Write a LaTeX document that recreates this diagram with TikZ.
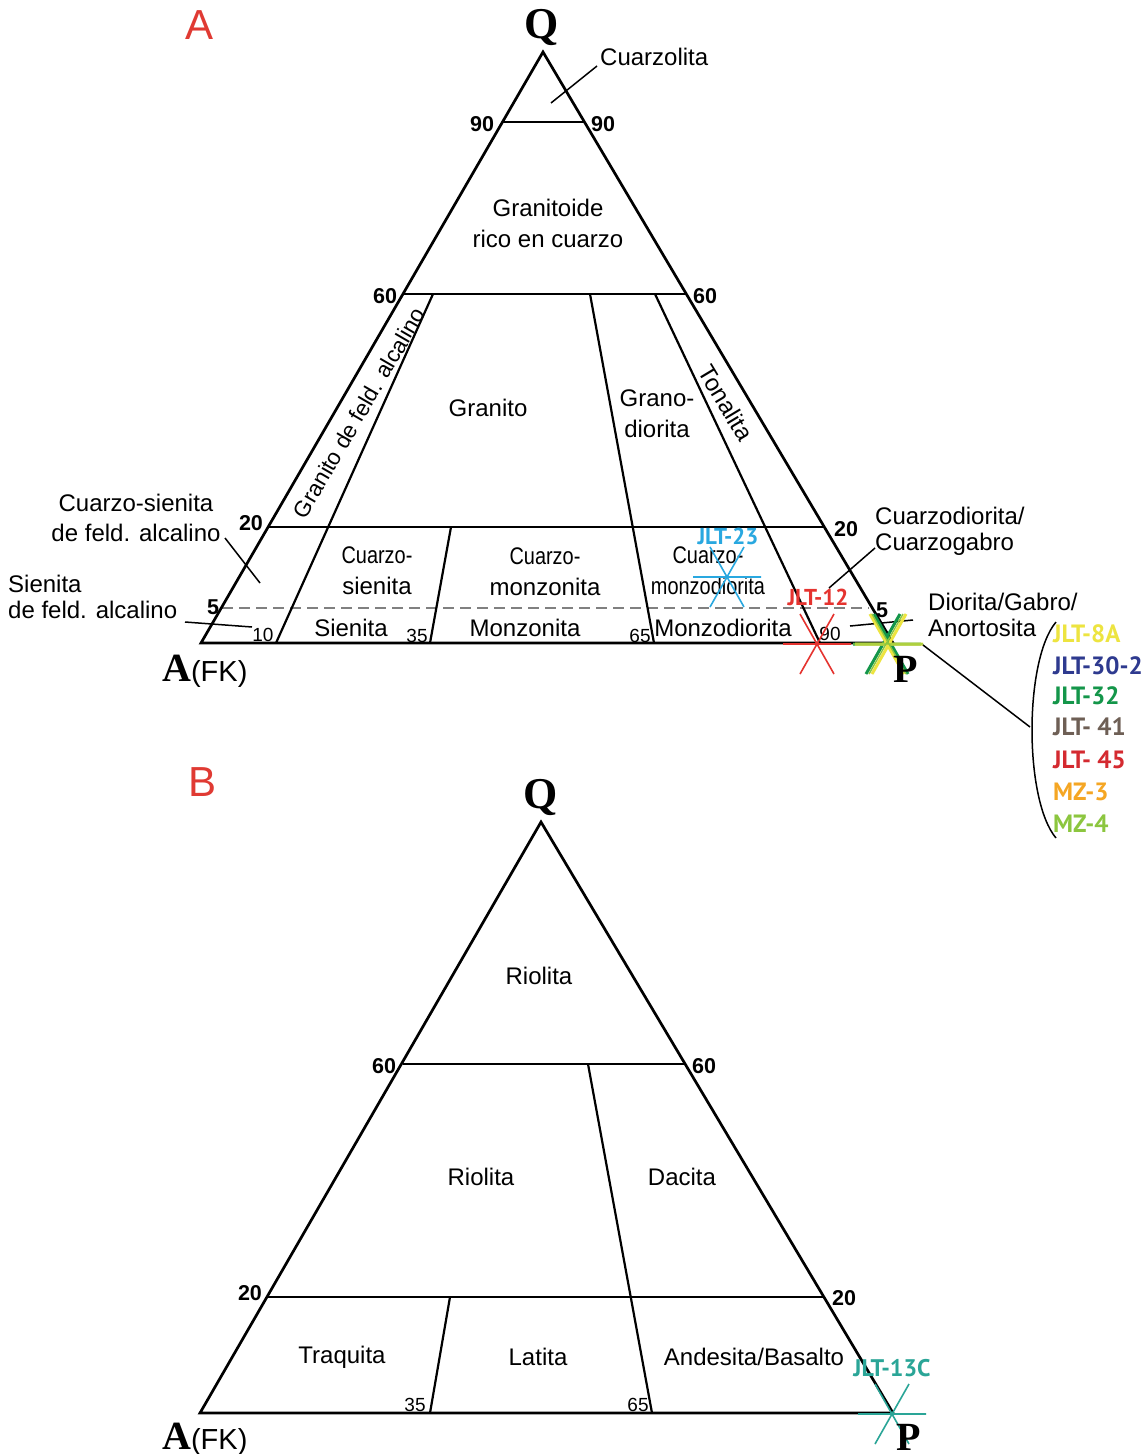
\documentclass[tikz,border=0pt]{standalone}
\usepackage{fontspec}
\usepackage{graphicx}
\setmainfont{Liberation Sans}
\newfontfamily\serifbf{Liberation Serif}
\newfontfamily\sampfont{PT Sans}
\definecolor{labred}{HTML}{E03A33}
\definecolor{c23}{HTML}{29A8E0}
\definecolor{c12}{HTML}{E5332F}
\definecolor{c13}{HTML}{2AA597}
\definecolor{s8a}{HTML}{EDE440}
\definecolor{s302}{HTML}{2E3A8F}
\definecolor{s32}{HTML}{14964A}
\definecolor{s41}{HTML}{6E5F55}
\definecolor{s45}{HTML}{D42A30}
\definecolor{smz3}{HTML}{F5A623}
\definecolor{smz4}{HTML}{8CC63F}
\newcommand{\cz}[1]{\scalebox{0.83}[1]{#1}}
\begin{document}
\begin{tikzpicture}[x=1pt,y=-1pt,
  edge/.style={line width=2.7pt,line join=miter},
  div/.style={line width=2.2pt},
  lead/.style={line width=1.5pt},
  lab/.style={font=\fontsize{24}{31}\selectfont,inner sep=0pt,align=center},
  labl/.style={font=\fontsize{24}{26}\selectfont,inner sep=0pt,align=left},
  num/.style={font=\bfseries\fontsize{21.5}{22}\selectfont,inner sep=0pt},
  small/.style={font=\fontsize{19}{20}\selectfont,inner sep=0pt},
  apex/.style={font=\serifbf\bfseries\fontsize{44}{44}\selectfont,inner sep=0pt},
  panel/.style={font=\fontsize{42}{42}\selectfont,text=labred,inner sep=0pt},
  samp/.style={font=\sampfont\bfseries\fontsize{25}{25}\selectfont,inner sep=0pt,anchor=west},
  samplecross/.pic={\draw (-34,0)--(34,0) (-17,-30)--(17,30) (-17,30)--(17,-30);}
]
\useasboundingbox (0,0) rectangle (1148,1454);
\fill[white] (0,0) rectangle (1148,1454);

% ================= PANEL A =================
\coordinate (QA) at (543,52);
\coordinate (AA) at (201,643);
\coordinate (PA) at (893,643);
\coordinate (L90) at (503,122); \coordinate (R90) at (584,122);
\coordinate (L60) at (404,294); \coordinate (R60) at (686,294);
\coordinate (L20) at (268,527); \coordinate (R20) at (823,527);
\coordinate (L5) at (222,608);  \coordinate (R5) at (869,608);
\coordinate (t10) at (433,294); \coordinate (b10) at (276,643);
\coordinate (t35) at (451,527); \coordinate (b35) at (430,643);
\coordinate (t65) at (590,294); \coordinate (b65) at (654,643);
\coordinate (t90) at (655,294); \coordinate (b90) at (820,643);

\draw[gray,line width=1.2pt,dash pattern=on 11pt off 6pt] (L5) -- (R5);
\draw[div] (L90) -- (R90);
\draw[div] (L60) -- (R60);
\draw[div] (L20) -- (R20);
\draw[div] (t10) -- (b10);
\draw[div] (t35) -- (b35);
\draw[div] (t65) -- (b65);
\draw[div] (t90) -- (b90);
\draw[edge] (AA) -- (QA) -- (PA) -- cycle;

\node[panel] (labA) at (200,25) {A};
\node[apex] (qA) at (542,27) {Q};
\node[labl,anchor=west] (cuarzolita) at (600,57) {Cuarzolita};
\coordinate (cuarzolitaP) at (551,103);
\draw[lead] (597,66) -- (cuarzolitaP);
\node[num] (n90l) at (482,124) {90};
\node[num] (n90r) at (603,124) {90};
\node[lab] (granitoide) at (548,223) {Granitoide\\rico en cuarzo};
\node[num] (n60l) at (385,296) {60};
\node[num] (n60r) at (705,296) {60};
\node[lab] (granito) at (488,408) {Granito};
\node[lab] (granodiorita) at (657,414) {Grano-\\diorita};
\node[lab,rotate=-59] (tonalita) at (726,403) {Tonalita};
\node[font=\fontsize{22.5}{24}\selectfont,inner sep=0pt,rotate=59.8] (gfa) at (359,413) {Granito de feld. alcalino};
\node[num] (n20l) at (251,523) {20};
\node[num] (n20r) at (846,529) {20};
\node[font=\fontsize{24}{30}\selectfont,inner sep=0pt,align=center] (csfa) at (136,518) {Cuarzo-sienita\\de feld. alcalino};
\draw[lead] (225,538) -- (260,583);
\node[labl,anchor=west] (sfa) at (8,597) {Sienita\\de feld. alcalino};
\draw[lead] (185,622) -- (252,627);
\node[num] (n5l) at (213,607) {5};
\node[num] (n5r) at (882,610) {5};
\node[small] (s10) at (263,635) {10};
\node[small] (s35) at (417,636) {35};
\node[small] (s65) at (640,636) {65};
\node[small] (s90) at (830,634) {90};
\node[lab] (cs) at (377,571) {\cz{Cuarzo-}\\sienita};
\node[lab] (cm) at (545,572) {\cz{Cuarzo-}\\monzonita};
\node[lab] (cmd) at (708,571) {\cz{Cuarzo-}\\\cz{monzodiorita}};
\node[lab] (sien) at (351,628) {Sienita};
\node[lab] (monz) at (525,628) {Monzonita};
\node[lab] (monzd) at (723,628) {Monzodiorita};

% samples in A
\pic[c23,line width=1.6pt] at (727,577) {samplecross};
\node[samp,anchor=center,text=c23,font=\sampfont\bfseries\fontsize{23}{23}\selectfont] (jlt23) at (728,536) {JLT-23};
\pic[c12,line width=1.6pt] at (817,644) {samplecross};
\node[samp,anchor=center,text=c12,font=\sampfont\bfseries\fontsize{23}{23}\selectfont] (jlt12) at (818,597) {JLT-12};
\node[labl,anchor=west] (cqd) at (875,531) {Cuarzodiorita/\\Cuarzogabro};
\draw[lead] (829,588) -- (875,548);
\node[labl,anchor=west] (dga) at (928,615) {Diorita/Gabro/\\Anortosita};
\draw[lead] (850,626) -- (913,620);

% grouped samples at P
\begin{scope}[shift={(887,644)}]
  \draw[s32,line width=3pt] (-34,0)--(34,0) (-21,30)--(13,-30) (-13,-30)--(21,30);
  \draw[s8a,line width=3pt] (-32,0)--(36,0) (-15,30)--(19,-30) (-17,-30)--(17,30);
  \draw[smz4,line width=1.4pt] (-34,0)--(36,0) (-18,30)--(16,-30) (-15,-30)--(19,30);
\end{scope}
\coordinate (grp) at (923,645);
\coordinate (brk) at (1030,727);
\draw[lead] (grp) -- (brk);
\draw[lead] (1056,622) .. controls (1024,660) and (1024,800) .. (1056,838);

\node[apex,font=\serifbf\bfseries\fontsize{40}{40}\selectfont] (pA) at (906,669) {P};
\node[inner sep=0pt,anchor=base west] (afkA) at (162,681) {{\serifbf\bfseries\fontsize{40}{40}\selectfont A}{\fontsize{29}{29}\selectfont(FK)}};

\node[samp,text=s8a]  (l8a)  at (1053,634) {JLT-8A};
\node[samp,text=s302] (l302) at (1053,666) {JLT-30-2};
\node[samp,text=s32]  (l32)  at (1053,696) {JLT-32};
\node[samp,text=s41]  (l41)  at (1053,727) {JLT- 41};
\node[samp,text=s45]  (l45)  at (1053,760) {JLT- 45};
\node[samp,text=smz3] (lmz3) at (1053,792) {MZ-3};
\node[samp,text=smz4] (lmz4) at (1053,824) {MZ-4};

% ================= PANEL B =================
\begin{scope}[shift={(0,770)}]
\coordinate (QB) at (541,52);
\coordinate (AB) at (200,643);
\coordinate (PB) at (893,643);
\coordinate (BL60) at (403,294); \coordinate (BR60) at (686,294);
\coordinate (BL20) at (268,527); \coordinate (BR20) at (823,527);
\coordinate (Bt35) at (450,527); \coordinate (Bb35) at (430,643);
\coordinate (Bt65) at (588,294); \coordinate (Bb65) at (652,643);
\draw[div] (BL60) -- (BR60);
\draw[div] (BL20) -- (BR20);
\draw[div] (Bt35) -- (Bb35);
\draw[div] (Bt65) -- (Bb65);
\draw[edge] (AB) -- (QB) -- (PB) -- cycle;

\node[panel] (labB) at (203,12) {B};
\node[apex] (qB) at (541,27) {Q};
\node[lab] (rio1) at (539,206) {Riolita};
\node[num] (m60l) at (384,296) {60};
\node[num] (m60r) at (704,296) {60};
\node[lab] (rio2) at (481,407) {Riolita};
\node[lab] (dac) at (682,407) {Dacita};
\node[num] (m20l) at (250,523) {20};
\node[num] (m20r) at (844,528) {20};
\node[lab] (traq) at (342,587) {Traquita};
\node[lab] (lat) at (538,587) {Latita};
\node[lab] (andb) at (754,587) {Andesita/Basalto};
\node[small] (m35) at (415,635) {35};
\node[small] (m65) at (638,635) {65};
\pic[c13,line width=1.6pt] at (892,644) {samplecross};
\node[samp,anchor=center,text=c13,font=\sampfont\bfseries\fontsize{24}{24}\selectfont] (jlt13c) at (892,598) {JLT-13C};
\node[apex,font=\serifbf\bfseries\fontsize{40}{40}\selectfont] (pB) at (909,667) {P};
\node[inner sep=0pt,anchor=base west] (afkB) at (162,679) {{\serifbf\bfseries\fontsize{40}{40}\selectfont A}{\fontsize{29}{29}\selectfont(FK)}};
\end{scope}
\end{tikzpicture}
\end{document}
